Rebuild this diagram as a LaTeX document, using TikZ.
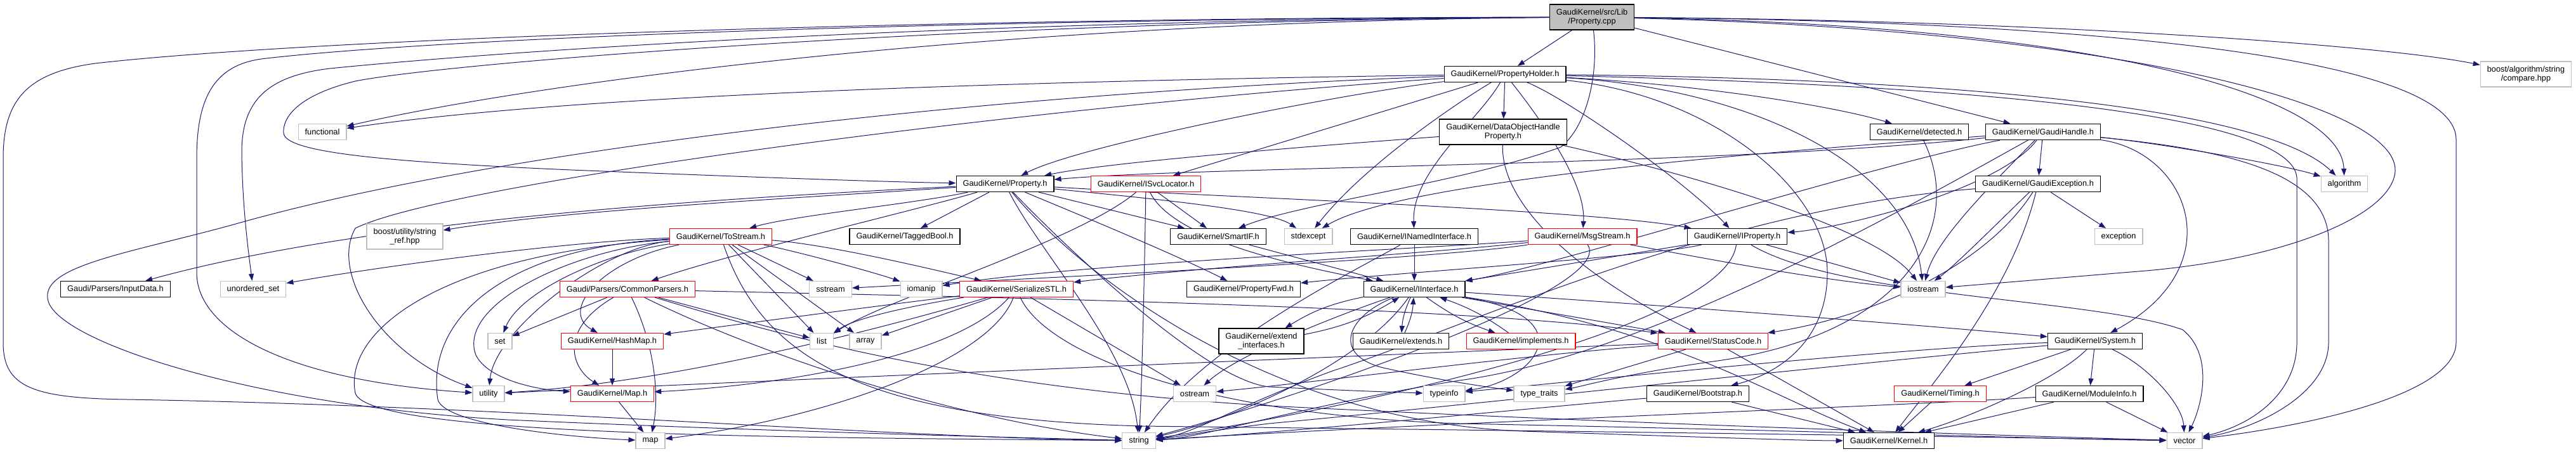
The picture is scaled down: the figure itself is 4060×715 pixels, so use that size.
\documentclass[tikz,border=0pt]{standalone}
\usepackage{fontspec}
\newfontfamily\gf{Liberation Sans}
\usetikzlibrary{arrows.meta}
\definecolor{edgec}{HTML}{191970}
\definecolor{gborder}{HTML}{BFBFBF}
\definecolor{rborder}{HTML}{FF0000}
\pgfdeclarelayer{bg}
\pgfsetlayers{bg,main}
\begin{document}
\begin{tikzpicture}[x=1pt,y=-1pt,
  nd/.style={draw=black,line width=1.2pt,fill=white,rectangle,inner xsep=10.5pt,inner ysep=0pt,minimum height=25pt,align=center,font={\gf\fontsize{12.8pt}{14.5pt}\selectfont}},
  rd/.style={nd,draw=rborder},
  gy/.style={nd,draw=gborder},
  two/.style={minimum height=40pt},
  ed/.style={draw=edgec,line width=1pt,-{Triangle[length=11pt,width=8pt]}}]
\useasboundingbox (0,0) rectangle (4060,715);
\begin{pgfonlayer}{bg}
\fill[white] (0,0) rectangle (4060,715);
\end{pgfonlayer}
% nodes
\node[nd,two,fill=gborder] (R) at (2509,27) {GaudiKernel/src/Lib\\/Property.cpp};
\node[nd] (PH) at (2372,117) {GaudiKernel/PropertyHolder.h};
\node[gy,two] (BAC) at (3981,117) {boost/algorithm/string\\/compare.hpp};
\node[gy] (FUN) at (508,208) {functional};
\node[nd,two] (DOHP) at (2369,208) {GaudiKernel/DataObjectHandle\\Property.h};
\node[nd] (DET) at (3025,208) {GaudiKernel/detected.h};
\node[nd] (GH) at (3220,208) {GaudiKernel/GaudiHandle.h};
\node[nd] (P) at (1584,290) {GaudiKernel/Property.h};
\node[rd] (ISL) at (1806,290) {GaudiKernel/ISvcLocator.h};
\node[nd] (GE) at (3212,290) {GaudiKernel/GaudiException.h};
\node[gy] (ALG) at (3695,290) {algorithm};
\node[gy,two] (SRF) at (638,373) {boost/utility/string\\\_ref.hpp};
\node[rd] (TS) at (1136,373) {GaudiKernel/ToStream.h};
\node[nd] (TB) at (1426,373) {GaudiKernel/TaggedBool.h};
\node[nd] (SIF) at (1920,373) {GaudiKernel/SmartIF.h};
\node[gy] (SE) at (2062,373) {stdexcept};
\node[nd] (INI) at (2229,373) {GaudiKernel/INamedInterface.h};
\node[rd] (MS) at (2494,373) {GaudiKernel/MsgStream.h};
\node[nd] (IP) at (2738,373) {GaudiKernel/IProperty.h};
\node[gy] (EXC) at (3339,373) {exception};
\node[nd] (ID) at (182,456) {Gaudi/Parsers/InputData.h};
\node[gy] (US) at (399,456) {unordered\_set};
\node[rd] (CP) at (989,456) {Gaudi/Parsers/CommonParsers.h};
\node[gy] (SS) at (1309,456) {sstream};
\node[gy] (IOM) at (1452,456) {iomanip};
\node[rd] (SER) at (1602,456) {GaudiKernel/SerializeSTL.h};
\node[nd] (PF) at (1960,456) {GaudiKernel/PropertyFwd.h};
\node[nd] (II) at (2229,456) {GaudiKernel/IInterface.h};
\node[gy] (IOS) at (3031,456) {iostream};
\node[gy] (SET) at (788,538) {set};
\node[rd] (HM) at (965,538) {GaudiKernel/HashMap.h};
\node[gy] (LST) at (1295,538) {list};
\node[gy] (ARR) at (1364,538) {array};
\node[nd,two] (EI) at (1988,538) {GaudiKernel/extend\\\_interfaces.h};
\node[nd] (EXT) at (2208,538) {GaudiKernel/extends.h};
\node[rd] (IMP) at (2397,538) {GaudiKernel/implements.h};
\node[rd] (SC) at (2700,538) {GaudiKernel/StatusCode.h};
\node[nd] (SYS) at (3302,538) {GaudiKernel/System.h};
\node[gy] (UT) at (770,621) {utility};
\node[rd] (MAP) at (965,621) {GaudiKernel/Map.h};
\node[gy] (OS) at (1883,621) {ostream};
\node[gy] (TI) at (2276,621) {typeinfo};
\node[gy] (TT) at (2426,621) {type\_traits};
\node[nd] (BS) at (2676,621) {GaudiKernel/Bootstrap.h};
\node[rd] (TIM) at (3058,621) {GaudiKernel/Timing.h};
\node[nd] (MI) at (3293,621) {GaudiKernel/ModuleInfo.h};
\node[gy] (MP) at (1025,695) {map};
\node[gy] (STR) at (1795,695) {string};
\node[nd] (KER) at (2977,695) {GaudiKernel/Kernel.h};
\node[gy] (VEC) at (3443,695) {vector};
\begin{pgfonlayer}{bg}
% root
\draw[ed] (R) -- (PH);
\draw[ed] (R) -- (GH);
\draw[ed] (R) .. controls (3200,32) and (3750,70) .. (BAC);
\draw[ed] (R) .. controls (3300,40) and (3690,150) .. (ALG);
\draw[ed] (R) .. controls (3300,34) and (3871,90) .. (3871,220) -- (3871,540) .. controls (3871,620) and (3650,670) .. (VEC);
\draw[ed] (R) .. controls (3300,46) and (3780,160) .. (3775,270) .. controls (3770,340) and (3600,410) .. (3370,428) .. controls (3250,438) and (3130,448) .. (IOS);
\draw[ed] (R) .. controls (2520,120) and (2500,200) .. (2460,232) .. controls (2300,290) and (2050,320) .. (SIF);
\draw[ed] (R) .. controls (1500,36) and (800,140) .. (FUN);
\draw[ed] (R) .. controls (1500,28) and (500,60) .. (150,100) .. controls (40,115) and (5,160) .. (5,250) -- (5,540) .. controls (5,610) and (50,628) .. (200,630) .. controls (800,640) and (1400,690) .. (STR);
\draw[ed] (R) .. controls (1500,30) and (700,60) .. (420,92) .. controls (340,100) and (310,150) .. (310,250) -- (310,430) .. controls (310,520) and (450,600) .. (UT);
\draw[ed] (R) .. controls (1500,32) and (800,80) .. (520,108) .. controls (420,120) and (381,160) .. (381,240) .. controls (382,330) and (392,400) .. (US);
\draw[ed] (R) .. controls (1500,34) and (700,100) .. (560,128) .. controls (470,150) and (445,185) .. (447,210) .. controls (450,240) and (600,255) .. (900,268) .. controls (1200,280) and (1400,287) .. (P);
% PropertyHolder
\draw[ed] (PH) .. controls (1600,128) and (900,150) .. (FUN);
\draw[ed] (PH) .. controls (1600,145) and (800,230) .. (365,355) .. controls (200,400) and (60,420) .. (76,475) .. controls (95,540) and (400,640) .. (800,662) .. controls (1200,680) and (1600,690) .. (STR);
\draw[ed] (PH) .. controls (1600,170) and (700,290) .. (560,360) .. controls (520,430) and (600,560) .. (UT);
\draw[ed] (PH) .. controls (2100,150) and (1700,230) .. (P);
\draw[ed] (PH) -- (ISL);
\draw[ed] (PH) .. controls (2300,160) and (2150,260) .. (SE);
\draw[ed] (PH) .. controls (2330,190) and (2225,270) .. (INI);
\draw[ed] (PH) -- (DOHP);
\draw[ed] (PH) .. controls (2430,190) and (2500,290) .. (MS);
\draw[ed] (PH) .. controls (2460,150) and (2650,280) .. (IP);
\draw[ed] (PH) .. controls (2700,150) and (2880,300) .. (2880,430) .. controls (2880,540) and (2800,590) .. (BS);
\draw[ed] (PH) .. controls (2900,122) and (3550,150) .. (ALG);
\draw[ed] (PH) .. controls (2900,130) and (3610,160) .. (3620,280) -- (3620,540) .. controls (3620,620) and (3550,670) .. (VEC);
\draw[ed] (PH) .. controls (2760,140) and (3010,260) .. (IOS);
\draw[ed] (PH) .. controls (2700,135) and (2900,170) .. (DET);
% DataObjectHandleProperty
\draw[ed] (DOHP) .. controls (2100,228) and (1750,255) .. (P);
\draw[ed] (DOHP) .. controls (2365,320) and (2480,430) .. (SC);
\draw[ed] (DOHP) .. controls (2600,260) and (2950,350) .. (IOS);
% GaudiHandle
\draw[ed] (GH) .. controls (2700,262) and (1900,262) .. (P);
\draw[ed] (GH) .. controls (2700,245) and (2200,290) .. (SE);
\draw[ed] (GH) .. controls (2950,260) and (2450,420) .. (II);
\draw[ed] (GH) .. controls (3130,300) and (3050,380) .. (IOS);
\draw[ed] (GH) -- (GE);
\draw[ed] (GH) .. controls (3450,240) and (3520,420) .. (SYS);
\draw[ed] (GH) .. controls (3400,225) and (3600,260) .. (ALG);
\draw[ed] (GH) .. controls (3500,235) and (3670,270) .. (3670,380) -- (3670,540) .. controls (3670,620) and (3560,675) .. (VEC);
\draw[ed] (GH) .. controls (3150,300) and (2900,360) .. (IP);
\draw[ed] (GH) .. controls (3000,330) and (2600,560) .. (2300,600) .. controls (2050,640) and (1900,690) .. (STR);
% GaudiException
\draw[ed] (GE) -- (EXC);
\draw[ed] (GE) .. controls (3130,420) and (2950,500) .. (SC);
\draw[ed] (GE) .. controls (3170,460) and (3050,600) .. (KER);
\draw[ed] (GE) .. controls (3150,350) and (3080,420) .. (IOS);
\draw[ed] (GE) .. controls (2700,330) and (2300,520) .. (2100,585) .. controls (1950,640) and (1880,685) .. (STR);
% detected
\draw[ed] (DET) .. controls (3100,360) and (3000,530) .. (2700,570) .. controls (2560,590) and (2490,610) .. (TT);
% Property
\draw[ed] (P) .. controls (1200,310) and (600,340) .. (ID);
\draw[ed] (P) .. controls (1300,310) and (900,330) .. (SRF);
\draw[ed] (P) .. controls (1450,320) and (1250,340) .. (TS);
\draw[ed] (P) .. controls (1450,330) and (1150,400) .. (CP);
\draw[ed] (P) -- (TB);
\draw[ed] (P) -- (SIF);
\draw[ed] (P) .. controls (1800,312) and (2000,330) .. (SE);
\draw[ed] (P) .. controls (1640,400) and (1780,550) .. (STR);
\draw[ed] (P) .. controls (1680,390) and (1900,600) .. (2000,610) .. controls (2100,615) and (2180,618) .. (TI);
\draw[ed] (P) .. controls (1680,330) and (1850,400) .. (PF);
\draw[ed] (P) .. controls (1700,430) and (2000,665) .. (2400,680) .. controls (2700,690) and (2850,695) .. (KER);
\draw[ed] (P) .. controls (1900,310) and (2500,330) .. (IP);
% ISvcLocator
\draw[ed] (ISL) -- (SIF);
\draw[ed] (ISL) .. controls (1804,420) and (1800,600) .. (STR);
\draw[ed] (ISL) .. controls (1700,380) and (1400,470) .. (LST);
\draw[ed] (ISL) .. controls (1850,380) and (2050,420) .. (II);
% INamedInterface
\draw[ed] (INI) -- (II);
\draw[ed] (INI) .. controls (2150,420) and (1900,540) .. (STR);
% MsgStream
\draw[ed] (MS) .. controls (2250,400) and (1900,420) .. (SER);
\draw[ed] (MS) .. controls (2250,392) and (1700,415) .. (IOM);
\draw[ed] (MS) .. controls (2250,410) and (1600,440) .. (SS);
\draw[ed] (MS) .. controls (2650,400) and (2850,440) .. (IOS);
\draw[ed] (MS) .. controls (2550,460) and (2000,640) .. (STR);
% IProperty
\draw[ed] (IP) -- (II);
\draw[ed] (IP) .. controls (2600,405) and (2200,430) .. (PF);
\draw[ed] (IP) -- (IOS);
\draw[ed] (IP) .. controls (2720,520) and (2100,650) .. (STR);
\draw[ed] (IP) .. controls (2900,470) and (3300,470) .. (3440,520) .. controls (3490,560) and (3470,640) .. (VEC);
% SmartIF
\draw[ed] (SIF) -- (II);
% ToStream
\draw[ed] (TS) .. controls (900,380) and (600,420) .. (US);
\draw[ed] (TS) .. controls (950,400) and (820,460) .. (SET);
\draw[ed] (TS) .. controls (950,410) and (880,490) .. (HM);
\draw[ed] (TS) .. controls (900,395) and (720,480) .. (750,560) .. controls (770,600) and (850,615) .. (MAP);
\draw[ed] (TS) .. controls (800,390) and (670,500) .. (690,630) .. controls (700,670) and (900,690) .. (MP);
\draw[ed] (TS) .. controls (700,400) and (540,520) .. (560,620) .. controls (580,690) and (1300,690) .. (STR);
\draw[ed] (TS) .. controls (950,390) and (780,520) .. (UT);
\draw[ed] (TS) -- (LST);
\draw[ed] (TS) -- (ARR);
\draw[ed] (TS) -- (SS);
\draw[ed] (TS) .. controls (1250,395) and (1380,430) .. (IOM);
\draw[ed] (TS) .. controls (1300,385) and (1450,420) .. (SER);
\draw[ed] (TS) .. controls (1200,560) and (1350,660) .. (1800,672) .. controls (2500,680) and (3200,690) .. (VEC);
% CommonParsers
\draw[ed] (CP) -- (SET);
\draw[ed] (CP) .. controls (880,520) and (900,580) .. (MAP);
\draw[ed] (CP) .. controls (1030,540) and (1040,620) .. (MP);
\draw[ed] (CP) -- (LST);
\draw[ed] (CP) .. controls (1200,560) and (1500,660) .. (STR);
\draw[ed] (CP) .. controls (1200,520) and (1500,610) .. (2000,640) .. controls (2600,670) and (3200,688) .. (VEC);
\draw[ed] (CP) .. controls (1400,466) and (2300,480) .. (SC);
% HashMap, Map
\draw[ed] (HM) -- (MAP);
\draw[ed] (MAP) -- (MP);
% SerializeSTL
\draw[ed] (SER) .. controls (1400,480) and (1100,520) .. (HM);
\draw[ed] (SER) .. controls (1500,570) and (1200,610) .. (MAP);
\draw[ed] (SER) -- (ARR);
\draw[ed] (SER) .. controls (1450,480) and (1350,500) .. (LST);
\draw[ed] (SER) .. controls (1560,570) and (1300,660) .. (MP);
\draw[ed] (SER) -- (OS);
\draw[ed] (SER) .. controls (1450,500) and (1100,600) .. (UT);
\draw[ed] (SER) .. controls (1650,560) and (1900,655) .. (2300,668) .. controls (2900,680) and (3200,692) .. (VEC);
% IInterface
\draw[ed] (II) to[bend right=10] (EI);
\draw[ed] (EI) to[bend right=10] (II);
\draw[ed] (II) to[bend right=10] (EXT);
\draw[ed] (EXT) to[bend right=10] (II);
\draw[ed] (II) to[bend right=8] (IMP);
\draw[ed] (IMP) to[bend right=8] (II);
\draw[ed] (II) .. controls (2100,500) and (1950,560) .. (OS);
\draw[ed] (II) .. controls (2120,500) and (2100,560) .. (2180,580) .. controls (2260,598) and (2340,610) .. (TT);
\draw[ed] (II) .. controls (2500,500) and (2420,600) .. (TI);
\draw[ed] (II) .. controls (2600,480) and (3000,510) .. (SYS);
\draw[ed] (II) -- (SC);
\draw[ed] (II) .. controls (2640,520) and (2800,630) .. (KER);
\draw[ed] (II) .. controls (2150,570) and (1950,660) .. (STR);
% StatusCode
\draw[ed] (SC) -- (KER);
\draw[ed] (SC) .. controls (2400,560) and (2100,600) .. (OS);
\draw[ed] (SC) -- (TT);
\draw[ed] (SC) .. controls (2300,555) and (1200,600) .. (UT);
% System
\draw[ed] (SYS) .. controls (3000,548) and (2500,600) .. (TI);
\draw[ed] (SYS) .. controls (2900,575) and (2300,640) .. (2000,668) .. controls (1900,680) and (1850,690) .. (STR);
\draw[ed] (SYS) -- (TIM);
\draw[ed] (SYS) .. controls (3240,600) and (3100,660) .. (KER);
\draw[ed] (SYS) -- (MI);
\draw[ed] (SYS) .. controls (3390,580) and (3440,640) .. (VEC);
% others
\draw[ed] (TIM) -- (KER);
\draw[ed] (MI) -- (KER);
\draw[ed] (MI) .. controls (3000,640) and (2300,665) .. (STR);
\draw[ed] (MI) -- (VEC);
\draw[ed] (BS) -- (KER);
\draw[ed] (BS) .. controls (2400,645) and (2000,685) .. (STR);
\end{pgfonlayer}
\end{tikzpicture}
\end{document}
